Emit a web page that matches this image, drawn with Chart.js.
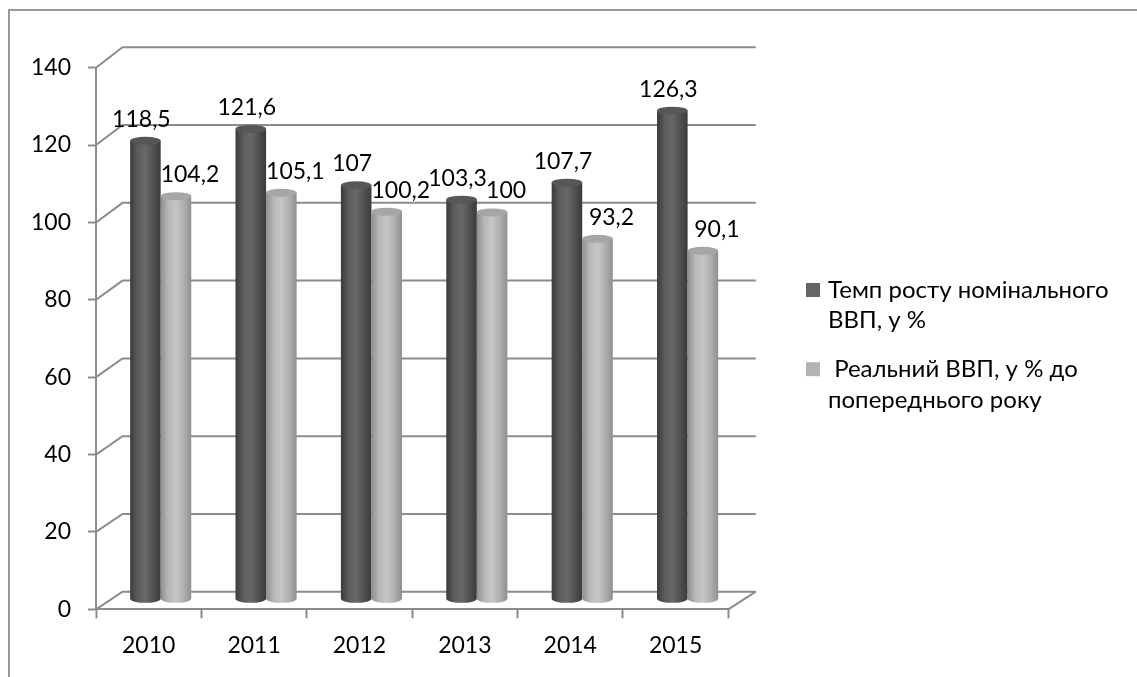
<!DOCTYPE html>
<html>
<head>
<meta charset="utf-8">
<script src="https://cdn.jsdelivr.net/npm/chart.js@4.4.1/dist/chart.umd.min.js"></script>
<style>
  html, body { margin: 0; padding: 0; background: #ffffff; overflow: hidden; }
  #wrap { position: relative; width: 1137px; height: 677px; }
  #frame { position: absolute; left: 8px; top: 9px; width: 1200px; height: 800px;
           border-left: 2px solid #9a9a9a; border-top: 2px solid #9a9a9a; box-sizing: border-box; }
  canvas { position: absolute; left: 0; top: 0; }
</style>
</head>
<body>
<div id="wrap">
  <div id="frame"></div>
  <canvas id="c" width="1137" height="677"></canvas>
</div>
<script>
// ---- data ----
const categories = ['2010', '2011', '2012', '2013', '2014', '2015'];
const nominalGrowth = [118.5, 121.6, 107, 103.3, 107.7, 126.3];
const realGdp = [104.2, 105.1, 100.2, 100, 93.2, 90.1];
const seriesNames = ['Темп росту номінального ВВП, у %', ' Реальний ВВП, у % до попереднього року'];
const legendLines = [['Темп росту номінального', 'ВВП, у %'], [' Реальний ВВП, у % до', 'попереднього року']];
const yMin = 0, yMax = 140, yStep = 20;

// ---- styles ----
const FONT = 'Lato, "Liberation Sans", sans-serif';
const FS = 23;
const FS_LEGEND = 24;
const GRID = '#8c8c8c';
const depth = { dxBack: 26.5, dyBack0: -17.6, dyBackTop: -20.4, dxMid: 12, dyMid: -10 };
const cyl = [
  { stops: ['#3a3a3a', '#5c5c5c', '#686868', '#525252', '#3a3a3a'], top: '#575757', legend: '#666666' },
  { stops: ['#8e8e8e', '#b8b8b8', '#c6c6c6', '#b0b0b0', '#8f8f8f'], top: '#a6a6a6', legend: '#b3b3b3' }
];

function backY(yScale, v) {
  const f = v / yMax;
  return yScale.getPixelForValue(v) + depth.dyBack0 + (depth.dyBackTop - depth.dyBack0) * f;
}

const wallsPlugin = {
  id: 'walls',
  beforeDatasetsDraw(chart) {
    const { ctx, chartArea: a, scales: { y } } = chart;
    ctx.save();
    ctx.strokeStyle = GRID;
    ctx.lineWidth = 2;
    for (let v = yMin; v <= yMax; v += yStep) {
      const fy = y.getPixelForValue(v);
      const by = backY(y, v);
      ctx.beginPath();
      ctx.moveTo(a.left, fy);
      ctx.lineTo(a.left + depth.dxBack, by);
      ctx.lineTo(a.right + depth.dxBack + 1, by);
      ctx.stroke();
    }
    // floor right edge
    ctx.beginPath();
    ctx.moveTo(a.right, y.getPixelForValue(0));
    ctx.lineTo(a.right + depth.dxBack + 1, backY(y, 0));
    ctx.stroke();
    ctx.restore();
  }
};

function fmt(v) { return String(v).replace('.', ','); }

const cylinderPlugin = {
  id: 'cylinders',
  afterDatasetsDraw(chart) {
    const { ctx } = chart;
    ctx.save();
    chart.data.datasets.forEach((ds, di) => {
      const meta = chart.getDatasetMeta(di);
      const st = cyl[di];
      meta.data.forEach((bar, i) => {
        const w = bar.width;
        const cx = bar.x + depth.dxMid;
        const x0 = cx - w / 2, x1 = cx + w / 2;
        const yt = bar.y + depth.dyMid;
        const yb = bar.base + depth.dyMid;
        const ry = 4;
        const g = ctx.createLinearGradient(x0, 0, x1, 0);
        st.stops.forEach((c, k) => g.addColorStop(k / (st.stops.length - 1), c));
        ctx.fillStyle = g;
        ctx.beginPath();
        ctx.moveTo(x0, yt);
        ctx.lineTo(x0, yb);
        ctx.ellipse(cx, yb, w / 2, ry, 0, Math.PI, 0, true);
        ctx.lineTo(x1, yt);
        ctx.closePath();
        ctx.fill();
        ctx.fillStyle = st.top;
        ctx.beginPath();
        ctx.ellipse(cx, yt, w / 2, ry, 0, 0, Math.PI * 2);
        ctx.fill();
        // value label
        ctx.fillStyle = '#000';
        ctx.font = FS + 'px ' + FONT;
        ctx.textAlign = 'center';
        ctx.textBaseline = 'alphabetic';
        const lx = cx + (di === 0 ? -4 : 14);
        ctx.fillText(fmt(ds.data[i]), lx, yt - ry - 10);
      });
    });
    ctx.restore();
  }
};

const legendPlugin = {
  id: 'customLegend',
  afterDraw(chart) {
    const { ctx } = chart;
    ctx.save();
    ctx.font = FS_LEGEND + 'px ' + FONT;
    ctx.textAlign = 'left';
    ctx.textBaseline = 'alphabetic';
    const baselines = [297.5, 376.7];
    legendLines.forEach((lines, k) => {
      const b = baselines[k];
      ctx.fillStyle = cyl[k].legend;
      ctx.fillRect(806, b - 14.5, 14, 14);
      ctx.fillStyle = '#000';
      lines.forEach((t, j) => ctx.fillText(t, 828, b + j * 30.8));
    });
    ctx.restore();
  }
};

new Chart(document.getElementById('c'), {
  type: 'bar',
  data: {
    labels: categories,
    datasets: [
      { label: seriesNames[0], data: nominalGrowth, backgroundColor: 'rgba(0,0,0,0)' },
      { label: seriesNames[1], data: realGdp, backgroundColor: 'rgba(0,0,0,0)' }
    ]
  },
  options: {
    responsive: false,
    animation: false,
    devicePixelRatio: 1,
    layout: { padding: { top: 67.7, left: 0, right: 408.7, bottom: 0 } },
    datasets: { bar: { categoryPercentage: 0.58, barPercentage: 1 } },
    plugins: { legend: { display: false }, tooltip: { enabled: false } },
    scales: {
      x: {
        afterFit(s) { s.height = 67.7; },
        grid: { offset: true, drawOnChartArea: false, drawTicks: true, tickLength: 9, tickColor: GRID, tickWidth: 2 },
        border: { display: true, color: GRID, width: 2 },
        ticks: { color: '#000', font: { family: FONT, size: FS }, padding: 13 }
      },
      y: {
        min: yMin, max: yMax,
        afterFit(s) { s.width = 96; },
        grid: { drawOnChartArea: false, drawTicks: true, tickLength: 8, tickColor: GRID, tickWidth: 2 },
        border: { display: true, color: GRID, width: 2 },
        ticks: { stepSize: yStep, color: '#000', font: { family: FONT, size: FS }, padding: 17 }
      }
    }
  },
  plugins: [wallsPlugin, cylinderPlugin, legendPlugin]
});
</script>
</body>
</html>
